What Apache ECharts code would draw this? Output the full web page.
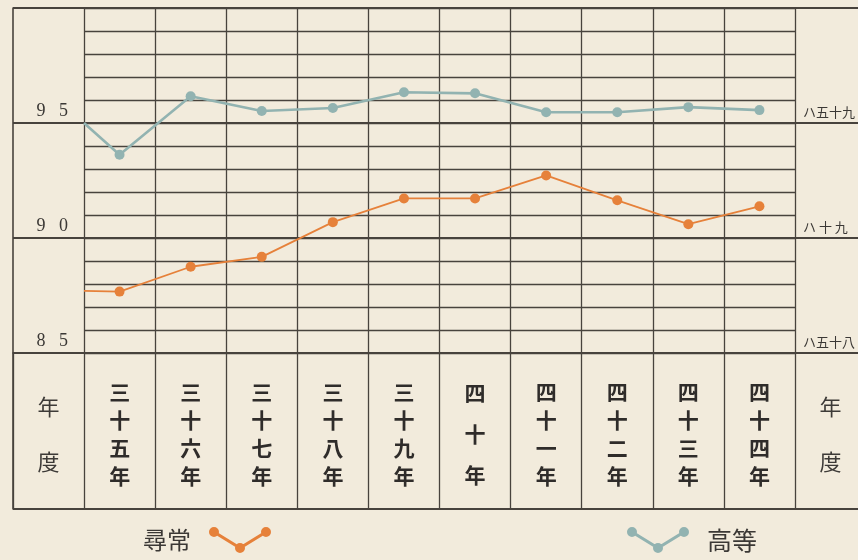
<!DOCTYPE html>
<html>
<head>
<meta charset="utf-8">
<script src="https://cdn.jsdelivr.net/npm/echarts@6/dist/echarts.min.js"></script>
<style>
  html, body { margin: 0; padding: 0; background: #f2ebdc; }
  #chart { width: 858px; height: 560px; }
</style>
</head>
<body>
<div id="chart"></div>
<script>
// 年度 (明治) — 表の列見出し
var years = ["三十五年", "三十六年", "三十七年", "三十八年", "三十九年",
             "四十年", "四十一年", "四十二年", "四十三年", "四十四年"];
var tableCols = ["年度"].concat(years, ["年度"]);

// 尋常・高等の値 (左端は前年度からの線の入り)
var jinjo = [87.67, 88.75, 89.18, 90.69, 91.72, 91.72, 92.72, 91.64, 90.60, 91.38];
var jinjoStart = 87.7;
var koto = [93.62, 96.16, 95.52, 95.65, 96.34, 96.29, 95.47, 95.47, 95.69, 95.56];
var kotoStart = 95.0;

// 目盛ラベル
var tickValues = [85, 90, 95];
var leftLabels = ["8 5", "9 0", "9 5"];
var rightLabels = ["ハ五十八", "ハ 十 九", "ハ五十九"];

var lineColor = "#48433d";
var orange = "#e6813a";
var teal = "#92b3b1";
var cjk = "'Noto Sans CJK JP', 'Noto Sans CJK SC', sans-serif";

function toPoints(start, vals) {
  var pts = [{ value: [0, start], symbol: "none" }];
  vals.forEach(function (v, i) {
    pts.push({ value: [i + 0.5, v] });
  });
  return pts;
}

function tickLabel(arr, gap) {
  return function (v) {
    var i = tickValues.indexOf(Math.round(v));
    if (i < 0 || Math.abs(v - tickValues[i]) > 1e-6) return "";
    return gap ? arr[i].replace(" ", gap) : arr[i];
  };
}

// V字の凡例記号
var vIcon = "path://M0,6a5,5 0 1,1 10,0a5,5 0 1,1 -10,0Z" +
  "M26,22a5,5 0 1,1 10,0a5,5 0 1,1 -10,0Z" +
  "M52,6a5,5 0 1,1 10,0a5,5 0 1,1 -10,0Z" +
  "M5.84,4.64L31.84,20.64L30.16,23.36L4.16,7.36Z" +
  "M30.16,20.64L56.16,4.64L57.84,7.36L31.84,23.36Z";

var chart = echarts.init(document.getElementById("chart"));

var option = {
  backgroundColor: "#f2ebdc",
  animation: false,
  legend: [
    {
      data: [{ name: "尋常", icon: vIcon }],
      left: 138, top: 522,
      align: "right",
      itemWidth: 62, itemHeight: 28,
      selectedMode: false,
      textStyle: { fontFamily: cjk, fontSize: 24, color: "#3b3835", padding: [0, 13, 0, 0] }
    },
    {
      data: [{ name: "高等", icon: vIcon }],
      left: 622, top: 522,
      align: "left",
      itemWidth: 62, itemHeight: 28,
      selectedMode: false,
      textStyle: { fontFamily: cjk, fontSize: 25, color: "#3b3835", padding: [0, 0, 0, 13] }
    }
  ],
  grid: [
    // 図表部
    { left: 84, top: 8, width: 711, height: 345, outerBoundsMode: "none" },
    // 外枠 (左右の欄を含む)
    { left: 13, top: 8, width: 853, height: 345, outerBoundsMode: "none" },
    // 年度の表
    { left: 13, top: 353, width: 853, height: 156, outerBoundsMode: "none" }
  ],
  xAxis: [
    {
      gridIndex: 0, type: "value", min: 0, max: 10, interval: 1,
      axisLine: { show: false }, axisTick: { show: false }, axisLabel: { show: false },
      splitLine: { show: true, lineStyle: { color: lineColor, width: 1.3 } }
    },
    {
      gridIndex: 1, type: "value", min: 0, max: 1, show: false
    },
    {
      gridIndex: 2, type: "category", position: "top", data: tableCols,
      boundaryGap: true,
      axisLine: { show: false }, axisTick: { show: false },
      splitLine: { show: true, interval: 0, lineStyle: { color: lineColor, width: 1.3 } },
      axisLabel: {
        inside: true, interval: 0, margin: 81, verticalAlign: "middle",
        formatter: function (v) {
          var chars = v.split("");
          var s = chars.length === 4 ? "a" : chars.length === 3 ? "b" : "c";
          return chars.map(function (c) { return "{" + s + "|" + c + "}"; }).join("\n");
        },
        rich: {
          a: { fontFamily: cjk, fontSize: 21, fontWeight: "bold", color: "#2f2c2a", lineHeight: 28 },
          b: { fontFamily: cjk, fontSize: 21, fontWeight: "bold", color: "#2f2c2a", lineHeight: 41 },
          c: { fontFamily: cjk, fontSize: 22, color: "#3d3a37", lineHeight: 55 }
        }
      }
    }
  ],
  yAxis: [
    {
      gridIndex: 0, type: "value", min: 85, max: 100, interval: 1,
      axisLine: { show: false }, axisTick: { show: false },
      splitLine: { show: true, lineStyle: { color: lineColor, width: 1.3 } },
      axisLabel: {
        margin: 16, verticalAlign: "bottom", padding: [0, 0, 3, 0],
        fontFamily: "'Liberation Serif', 'DejaVu Serif', serif", fontSize: 18, color: "#3b3835",
        formatter: tickLabel(leftLabels, "\u2002\u2005")
      }
    },
    {
      gridIndex: 0, type: "value", min: 85, max: 100, interval: 1, position: "right",
      axisLine: { show: false }, axisTick: { show: false }, splitLine: { show: false },
      axisLabel: {
        margin: 8, verticalAlign: "bottom", padding: [0, 0, 4, 0],
        fontFamily: cjk, fontSize: 13, color: "#3b3835",
        formatter: tickLabel(rightLabels)
      }
    },
    {
      gridIndex: 1, type: "value", min: 85, max: 100, interval: 5,
      axisLine: { show: true, lineStyle: { color: lineColor, width: 1.6 } },
      axisTick: { show: false }, axisLabel: { show: false },
      splitLine: { show: true, lineStyle: { color: lineColor, width: 1.8 } }
    },
    {
      gridIndex: 2, type: "value", min: 0, max: 1, interval: 1,
      axisLine: { show: true, lineStyle: { color: lineColor, width: 1.6 } },
      axisTick: { show: false }, axisLabel: { show: false },
      splitLine: { show: true, lineStyle: { color: lineColor, width: 1.8 } }
    }
  ],
  series: [
    {
      name: "尋常", type: "line", xAxisIndex: 0, yAxisIndex: 0,
      data: toPoints(jinjoStart, jinjo),
      symbol: "circle", symbolSize: 10,
      lineStyle: { color: orange, width: 1.8 },
      itemStyle: { color: orange }
    },
    {
      name: "高等", type: "line", xAxisIndex: 0, yAxisIndex: 0,
      data: toPoints(kotoStart, koto),
      symbol: "circle", symbolSize: 10,
      lineStyle: { color: teal, width: 2.6 },
      itemStyle: { color: teal }
    }
  ]
};

chart.setOption(option);
</script>
</body>
</html>
